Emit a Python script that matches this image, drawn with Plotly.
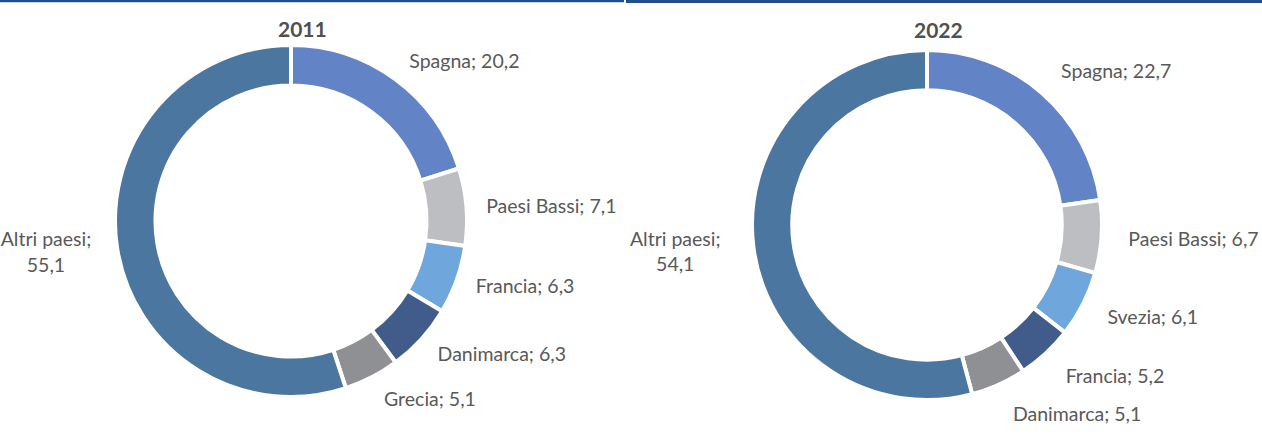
import plotly.graph_objects as go

# Quota per paese (%), due anni a confronto
labels_2011 = ["Spagna", "Paesi Bassi", "Francia", "Danimarca", "Grecia", "Altri paesi"]
values_2011 = [20.2, 7.1, 6.3, 6.3, 5.1, 55.1]

labels_2022 = ["Spagna", "Paesi Bassi", "Svezia", "Francia", "Danimarca", "Altri paesi"]
values_2022 = [22.7, 6.7, 6.1, 5.2, 5.1, 54.1]

years = ["2011", "2022"]

# colori per posizione della fetta
slice_colors = ["#6283C5", "#BDBEC2", "#6FA7DC", "#415C8B", "#8F9094", "#4A76A0"]

TEXT_COLOR = "#595959"
FONT = "Lato"

W, H = 1262, 441


def fmt(v):
    return f"{v:.1f}".replace(".", ",")


def slice_texts(labels, values):
    out = []
    for lab, v in zip(labels, values):
        sep = ";<br>" if lab == "Altri paesi" else "; "
        out.append(f"{lab}{sep}{fmt(v)}")
    return out


def box(cx, cy, r):
    return dict(x=[(cx - r) / W, (cx + r) / W], y=[1 - (cy + r) / H, 1 - (cy - r) / H])


# centro e raggio di ogni ciambella; le etichette stanno su un anello più ampio
rings = [(291, 221, 176, 190), (927, 225, 175, 196)]

fig = go.Figure()

for labels, values, (cx, cy, r, r_lab) in zip(
        [labels_2011, labels_2022], [values_2011, values_2022], rings):
    # ciambella visibile
    fig.add_trace(go.Pie(
        labels=labels,
        values=values,
        textinfo="none",
        hole=0.77,
        sort=False,
        direction="clockwise",
        rotation=0,
        marker=dict(colors=slice_colors, line=dict(color="white", width=4)),
        domain=box(cx, cy, r),
        showlegend=False,
        automargin=False,
    ))
    # anello trasparente che porta le etichette esterne
    fig.add_trace(go.Pie(
        labels=labels,
        values=values,
        text=slice_texts(labels, values),
        textinfo="text",
        textposition="outside",
        textfont=dict(family=FONT, size=19.5, color=TEXT_COLOR),
        hole=0.95,
        sort=False,
        direction="clockwise",
        rotation=0,
        marker=dict(colors=["rgba(0,0,0,0)"] * len(values), line=dict(width=0)),
        domain=box(cx, cy, r_lab),
        showlegend=False,
        automargin=False,
        hoverinfo="skip",
    ))

# titoli degli anni
title_pos = [(302 / W, 1 - 28 / H), (938 / W, 1 - 30 / H)]
for yr, (tx, ty) in zip(years, title_pos):
    fig.add_annotation(
        text=f"<b>{yr}</b>", x=tx, y=ty, xref="paper", yref="paper",
        showarrow=False, xanchor="center", yanchor="middle",
        font=dict(family=FONT, size=21, color="#505050"),
    )

# linee blu in testa
fig.add_shape(type="line", xref="paper", yref="paper",
              x0=0, x1=624 / W, y0=1 - 1 / H, y1=1 - 1 / H,
              line=dict(color="#1F4E8C", width=2.5))
fig.add_shape(type="line", xref="paper", yref="paper",
              x0=626 / W, x1=1, y0=1 - 1.5 / H, y1=1 - 1.5 / H,
              line=dict(color="#1F4E8C", width=3))

fig.update_layout(
    width=W, height=H,
    margin=dict(l=0, r=0, t=0, b=0),
    paper_bgcolor="white",
    plot_bgcolor="white",
    font=dict(family=FONT),
)

fig.write_html("out.html")
